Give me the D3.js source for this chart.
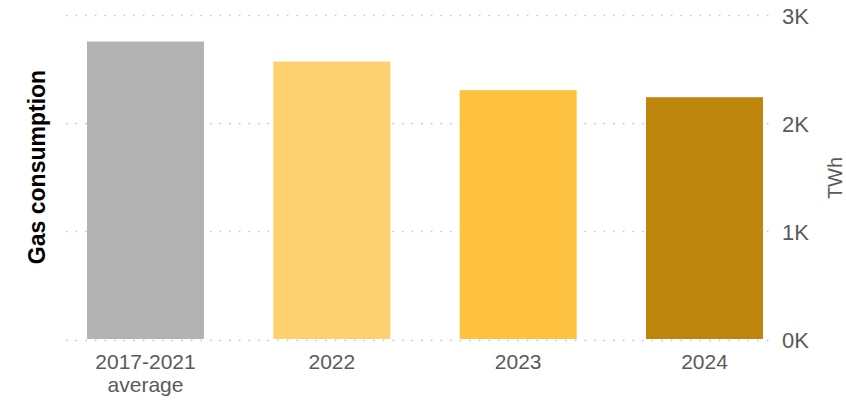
<!DOCTYPE html>
<html>
<head>
<meta charset="utf-8">
<script src="https://cdn.jsdelivr.net/npm/d3@7"></script>
<style>
  html, body { margin: 0; padding: 0; background: #fff; }
  svg { display: block; font-family: Arial, "Liberation Sans", sans-serif; }
</style>
</head>
<body>
<svg id="chart" width="846" height="400"></svg>
<script>
// Annual gas consumption, TWh
const categories = ["2017-2021|average", "2022", "2023", "2024"];
const values = [2755, 2570, 2305, 2240];
const barColors = ["#b3b3b3", "#fdd16f", "#ffc240", "#bf860e"];
const yTicks = [0, 1000, 2000, 3000];
const yTickLabels = ["0K", "1K", "2K", "3K"];

const svg = d3.select("#chart");

const x = d3.scaleBand()
  .domain(categories)
  .range([87, 763])
  .paddingInner(0.372)
  .paddingOuter(0);

const y = d3.scaleLinear()
  .domain([0, 3000])
  .range([339.5, 15]);

// dotted gridlines
svg.append("g")
  .selectAll("line")
  .data(yTicks)
  .join("line")
  .attr("x1", 66)
  .attr("x2", 770)
  .attr("y1", d => Math.round(y(d)) + 0.5)
  .attr("y2", d => Math.round(y(d)) + 0.5)
  .attr("stroke", "#c6c6c6")
  .attr("stroke-width", 1.6)
  .attr("stroke-dasharray", "1.6,8");

// bars
svg.append("g")
  .selectAll("rect")
  .data(categories)
  .join("rect")
  .attr("x", d => x(d))
  .attr("width", x.bandwidth())
  .attr("y", (d, i) => y(values[i]))
  .attr("height", (d, i) => y(0) - 0.5 - y(values[i]))
  .attr("fill", (d, i) => barColors[i]);

// right value axis
const yAxis = d3.axisRight(y)
  .tickValues(yTicks)
  .tickFormat((d, i) => yTickLabels[i])
  .tickSize(0)
  .tickPadding(0);

const yg = svg.append("g")
  .attr("transform", "translate(782,1)")
  .call(yAxis);
yg.select(".domain").remove();
yg.selectAll("text")
  .attr("font-size", 22)
  .attr("font-family", "Arial, 'Liberation Sans', sans-serif")
  .attr("fill", "#5a5a5a");

// category axis labels
const xAxis = d3.axisBottom(x).tickSize(0).tickFormat("");
const xg = svg.append("g")
  .attr("transform", "translate(0,340)")
  .call(xAxis);
xg.select(".domain").remove();
xg.selectAll(".tick").each(function(d) {
  const lines = d.split("|");
  const t = d3.select(this).append("text")
    .attr("text-anchor", "middle")
    .attr("font-size", 21)
    .attr("fill", "#5a5a5a");
  lines.forEach((s, i) => {
    t.append("tspan")
      .attr("x", 0)
      .attr("y", 29 + i * 23)
      .text(s);
  });
});

// axis titles
svg.append("text")
  .attr("transform", "translate(45,167) rotate(-90)")
  .attr("text-anchor", "middle")
  .attr("font-size", 23)
  .attr("font-weight", "bold")
  .attr("fill", "#000")
  .text("Gas consumption");

svg.append("text")
  .attr("transform", "translate(842,178) rotate(-90)")
  .attr("text-anchor", "middle")
  .attr("font-size", 20)
  .attr("fill", "#5a5a5a")
  .text("TWh");
</script>
</body>
</html>
